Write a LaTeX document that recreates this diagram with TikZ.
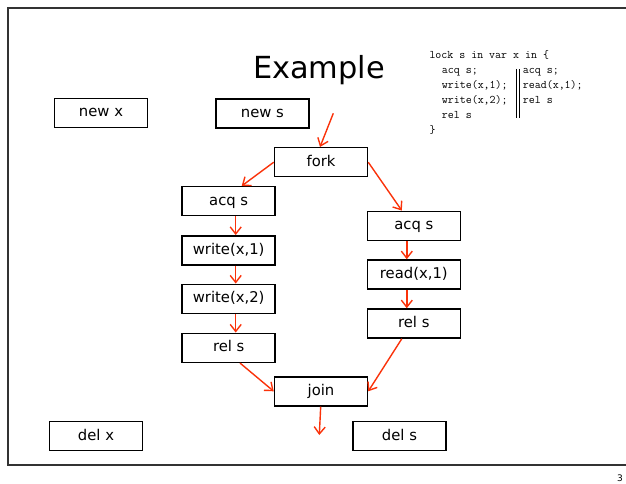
\documentclass[tikz,border=0pt]{standalone}
\usepackage{fontspec}
\newfontfamily\boxfont{DejaVu Sans}
\usetikzlibrary{arrows.meta,calc}
\definecolor{arr}{RGB}{250,50,10}
\begin{document}
\begin{tikzpicture}[x=1pt,y=-1pt,
  box/.style={draw=black,line width=1.5pt,minimum width=93pt,minimum height=29pt,inner sep=0pt,text height=10.8pt,text depth=3.2pt,font=\boxfont\fontsize{14.8}{16}\selectfont},
  flow/.style={draw=arr,line width=1.4pt,-{Straight Barb[length=7pt,width=11pt]}},
  code/.style={anchor=base west,inner sep=0pt,font=\fontsize{11.6}{14}\ttfamily}]
\useasboundingbox (0,0) rectangle (626,484);
\draw[line width=1.5pt,gray!40!black] (626,8) -- (8,8) -- (8,465) -- (626,465);
% title
\node[font=\boxfont\fontsize{30.4}{34}\selectfont, anchor=base, inner sep=0pt] (title) at (319,79) {Example};
\node[font=\boxfont\fontsize{9}{10}\selectfont, anchor=base east, inner sep=0pt] (pg) at (623,481) {3};
% code
\node[code] (l1) at (429.3,59) {lock s in var x in \{};
\node[code] (l2) at (441.7,74) {acq s;};
\node[code] (l3) at (441.7,88.8) {write(x,1);};
\node[code] (l4) at (441.7,103.6) {write(x,2);};
\node[code] (l5) at (441.7,118.4) {rel s};
\node[code] (l6) at (429.3,133.2) {\}};
\node[code] (r2) at (522.7,74) {acq s;};
\node[code] (r3) at (522.7,88.8) {read(x,1);};
\node[code] (r4) at (522.7,103.6) {rel s};
\draw[line width=0.8pt] (516,69) -- (516,118.5);
\draw[line width=0.8pt] (519.3,69) -- (519.3,118.5);
% boxes
\node[box] (newx) at (101,113) {new x};
\node[box] (news) at (262.4,113.3) {new s};
\node[box] (fork) at (321,162.2) {fork};
\node[box] (acqL) at (228.7,201.2) {acq s};
\node[box] (w1) at (228.7,250.3) {write(x,1)};
\node[box] (w2) at (228.7,298.8) {write(x,2)};
\node[box] (relL) at (228.7,347.8) {rel s};
\node[box] (acqR) at (413.8,225.8) {acq s};
\node[box] (rd) at (413.8,274.5) {read(x,1)};
\node[box] (relR) at (413.8,323.5) {rel s};
\node[box] (join) at (321,391.3) {join};
\node[box] (delx) at (96,436.2) {del x};
\node[box] (dels) at (399.5,436.2) {del s};
% arrows
\coordinate (in) at (333.3,113.3);
\coordinate (out) at (319.3,435);
\draw[flow] (in) -- ($(fork.north)+(-1,0)$);
\draw[flow] (fork.west) -- ($(acqL.north)+(13,0)$);
\draw[flow] (fork.east) -- ($(acqR.north)+(-12,0)$);
\draw[flow] ($(acqL.south)+(7,0)$) -- ($(w1.north)+(7,0)$);
\draw[flow] ($(w1.south)+(7,0)$) -- ($(w2.north)+(7,0)$);
\draw[flow] ($(w2.south)+(7,0)$) -- ($(relL.north)+(7,0)$);
\draw[flow] ($(acqR.south)+(-7,0)$) -- ($(rd.north)+(-7,0)$);
\draw[flow] ($(rd.south)+(-7,0)$) -- ($(relR.north)+(-7,0)$);
\draw[flow] ($(relL.south)+(11.3,0)$) -- (join.west);
\draw[flow] ($(relR.south)+(-12,0)$) -- (join.east);
\draw[flow] ($(join.south)+(-0.3,0)$) -- (out);
\end{tikzpicture}
\end{document}
